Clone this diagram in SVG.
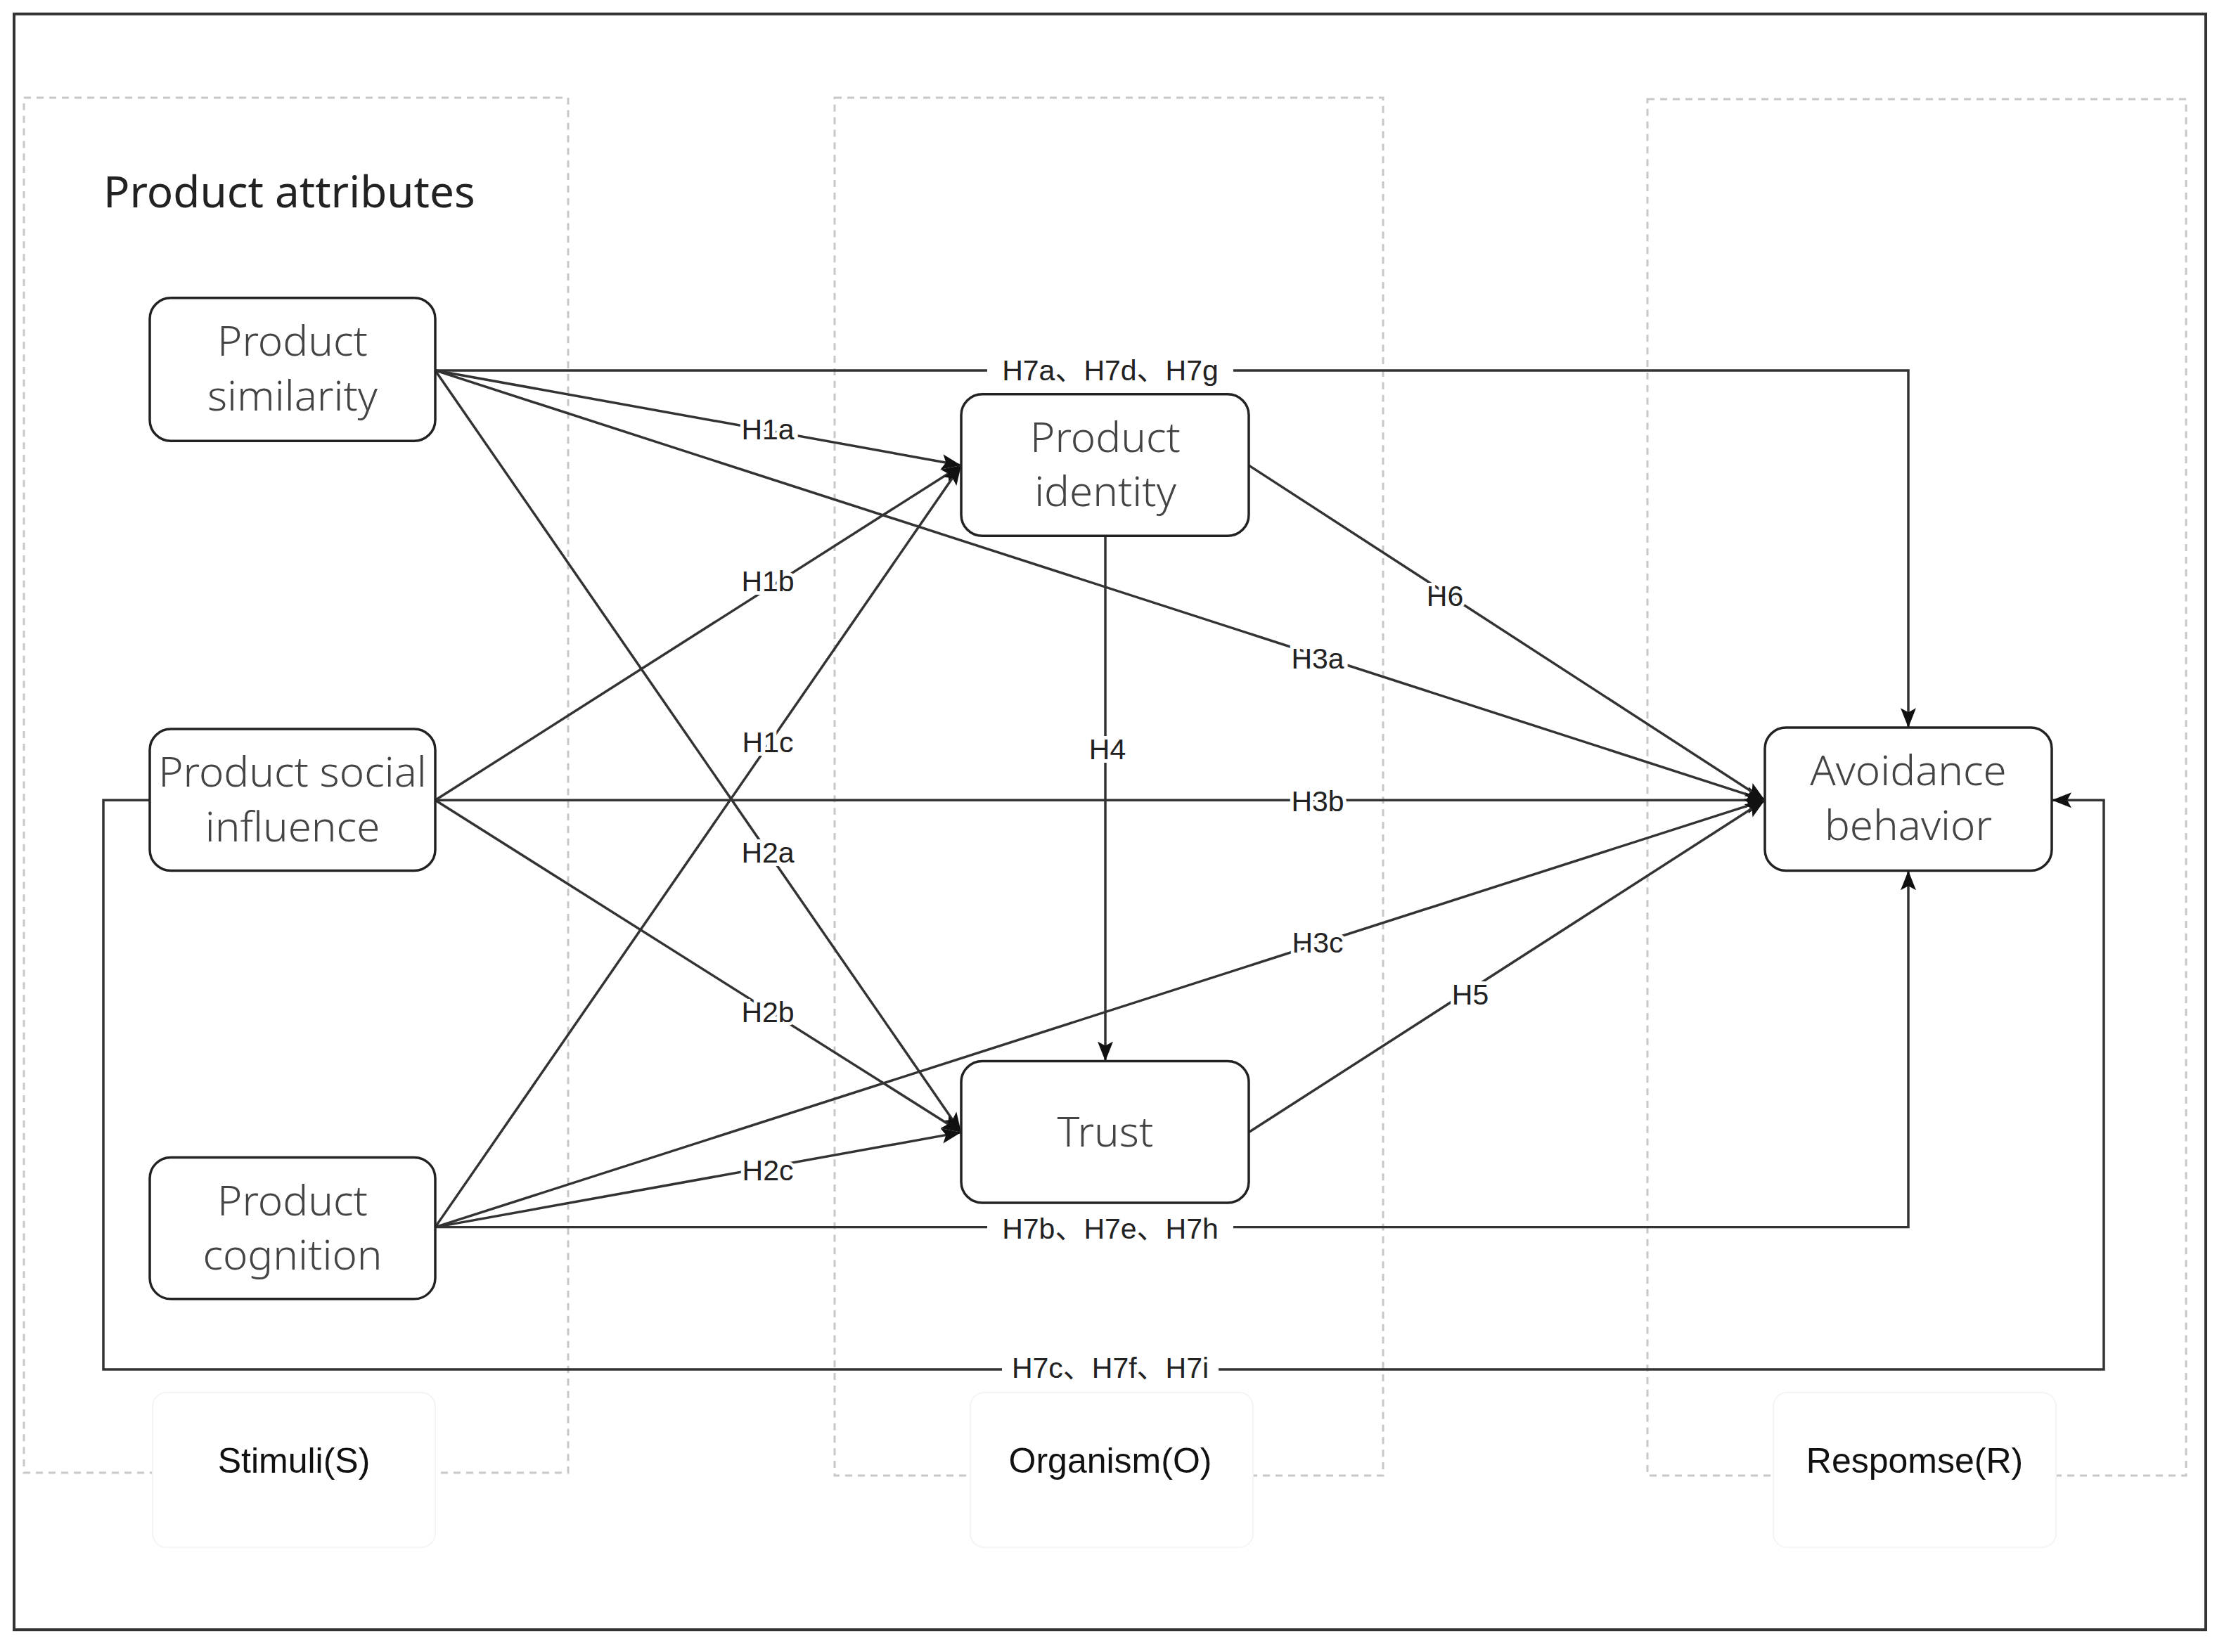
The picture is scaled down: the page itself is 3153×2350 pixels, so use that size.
<svg xmlns="http://www.w3.org/2000/svg" width="3153" height="2350" viewBox="0 0 3153 2350">
<style>
.grp{fill:none;stroke:#c8c8c8;stroke-width:3;stroke-dasharray:10 8}
.node rect{fill:#fff;stroke:#222;stroke-width:3.5}
.node text{font-family:"Noto Sans","Open Sans","Noto Sans CJK SC",sans-serif;font-weight:300;font-size:60px;fill:#444;text-anchor:middle}
.e{fill:none;stroke:#333;stroke-width:3.5}
.lbl{font-family:"Liberation Sans","Noto Sans CJK SC",sans-serif;font-size:41px;fill:#222;text-anchor:middle;dominant-baseline:central;paint-order:stroke;stroke:#fff;stroke-width:10}
.bg{fill:#fff}
.cap{font-family:"Liberation Sans",sans-serif;font-size:50px;fill:#111;text-anchor:middle;dominant-baseline:central}
</style>
<defs>
<marker id="ah" markerUnits="userSpaceOnUse" markerWidth="30" markerHeight="24" refX="28" refY="12" orient="auto"><path d="M0,1 L28,12 L0,23 L6,12 Z" fill="#111"/></marker>
</defs>
<g transform="scale(1,0.9924)">
<rect x="20" y="20" width="3117" height="2316" fill="#fff" stroke="#333" stroke-width="4"/>
<g id="groups">
<rect class="grp" x="34" y="140" width="774" height="1971"/>
<rect class="grp" x="1187" y="140" width="780" height="1975"/>
<rect class="grp" x="2343" y="142" width="766" height="1973"/>
</g>
<text x="147" y="273" font-family="Noto Sans,Open Sans,sans-serif" font-size="62" fill="#222" dominant-baseline="central">Product attributes</text>
<g id="connectors">
<polyline class="e" points="619,531 2714,531 2714,1043" marker-end="url(#ah)"/>
<line class="e" x1="619" y1="531" x2="1367" y2="667" marker-end="url(#ah)"/>
<line class="e" x1="619" y1="531" x2="2510" y2="1147" marker-end="url(#ah)"/>
<line class="e" x1="619" y1="531" x2="1367" y2="1623" marker-end="url(#ah)"/>
<line class="e" x1="619" y1="1147" x2="1367" y2="667" marker-end="url(#ah)"/>
<line class="e" x1="619" y1="1147" x2="2510" y2="1147" marker-end="url(#ah)"/>
<line class="e" x1="619" y1="1147" x2="1367" y2="1623" marker-end="url(#ah)"/>
<line class="e" x1="619" y1="1759" x2="1367" y2="667" marker-end="url(#ah)"/>
<line class="e" x1="619" y1="1759" x2="2510" y2="1147" marker-end="url(#ah)"/>
<line class="e" x1="619" y1="1759" x2="1367" y2="1623" marker-end="url(#ah)"/>
<polyline class="e" points="619,1759 2714,1759 2714,1248" marker-end="url(#ah)"/>
<polyline class="e" points="213,1147 147,1147 147,1963 2992,1963 2992,1147 2918,1147" marker-end="url(#ah)"/>
<line class="e" x1="1572" y1="768" x2="1572" y2="1521" marker-end="url(#ah)"/>
<line class="e" x1="1776" y1="667" x2="2510" y2="1147" marker-end="url(#ah)"/>
<line class="e" x1="1776" y1="1623" x2="2510" y2="1147" marker-end="url(#ah)"/>
<rect class="bg" x="1404" y="509" width="350" height="44"/>
<rect class="bg" x="1404" y="1739" width="350" height="44"/>
<rect class="bg" x="1425" y="1941" width="308" height="44"/>
<text class="lbl" x="1579" y="531">H7a、H7d、H7g</text>
<text class="lbl" x="1092" y="616">H1a</text>
<text class="lbl" x="1874" y="944">H3a</text>
<text class="lbl" x="1092" y="1222">H2a</text>
<text class="lbl" x="1092" y="833">H1b</text>
<text class="lbl" x="1874" y="1149">H3b</text>
<text class="lbl" x="1092" y="1451">H2b</text>
<text class="lbl" x="1092" y="1064">H1c</text>
<text class="lbl" x="1874" y="1351">H3c</text>
<text class="lbl" x="1092" y="1678">H2c</text>
<text class="lbl" x="1579" y="1761">H7b、H7e、H7h</text>
<text class="lbl" x="1579" y="1961">H7c、H7f、H7i</text>
<text class="lbl" x="1575" y="1074">H4</text>
<text class="lbl" x="2055" y="855">H6</text>
<text class="lbl" x="2091" y="1426">H5</text>
</g>
<g id="similarity" class="node"><rect x="213" y="427" width="406" height="205" rx="30"/><text x="416" y="510">Product</text><text x="416" y="588">similarity</text></g>
<g id="social" class="node"><rect x="213" y="1045" width="406" height="203" rx="30"/><text x="416" y="1128">Product social</text><text x="416" y="1206">influence</text></g>
<g id="cognition" class="node"><rect x="213" y="1659" width="406" height="203" rx="30"/><text x="416" y="1742">Product</text><text x="416" y="1820">cognition</text></g>
<g id="identity" class="node"><rect x="1367" y="565" width="409" height="203" rx="30"/><text x="1572" y="648">Product</text><text x="1572" y="726">identity</text></g>
<g id="trust" class="node"><rect x="1367" y="1521" width="409" height="203" rx="30"/><text x="1572" y="1643">Trust</text></g>
<g id="avoidance" class="node"><rect x="2510" y="1043" width="408" height="205" rx="30"/><text x="2714" y="1126">Avoidance</text><text x="2714" y="1204">behavior</text></g>
<g id="captions">
<rect x="217" y="1996" width="402" height="222" rx="20" fill="#fff" stroke="#f4f4f4" stroke-width="2"/>
<text class="cap" x="418" y="2094">Stimuli(S)</text>
<rect x="1380" y="1996" width="402" height="222" rx="20" fill="#fff" stroke="#f4f4f4" stroke-width="2"/>
<text class="cap" x="1579" y="2094">Organism(O)</text>
<rect x="2522" y="1996" width="402" height="222" rx="20" fill="#fff" stroke="#f4f4f4" stroke-width="2"/>
<text class="cap" x="2723" y="2094">Respomse(R)</text>
</g>
</g>
</svg>
